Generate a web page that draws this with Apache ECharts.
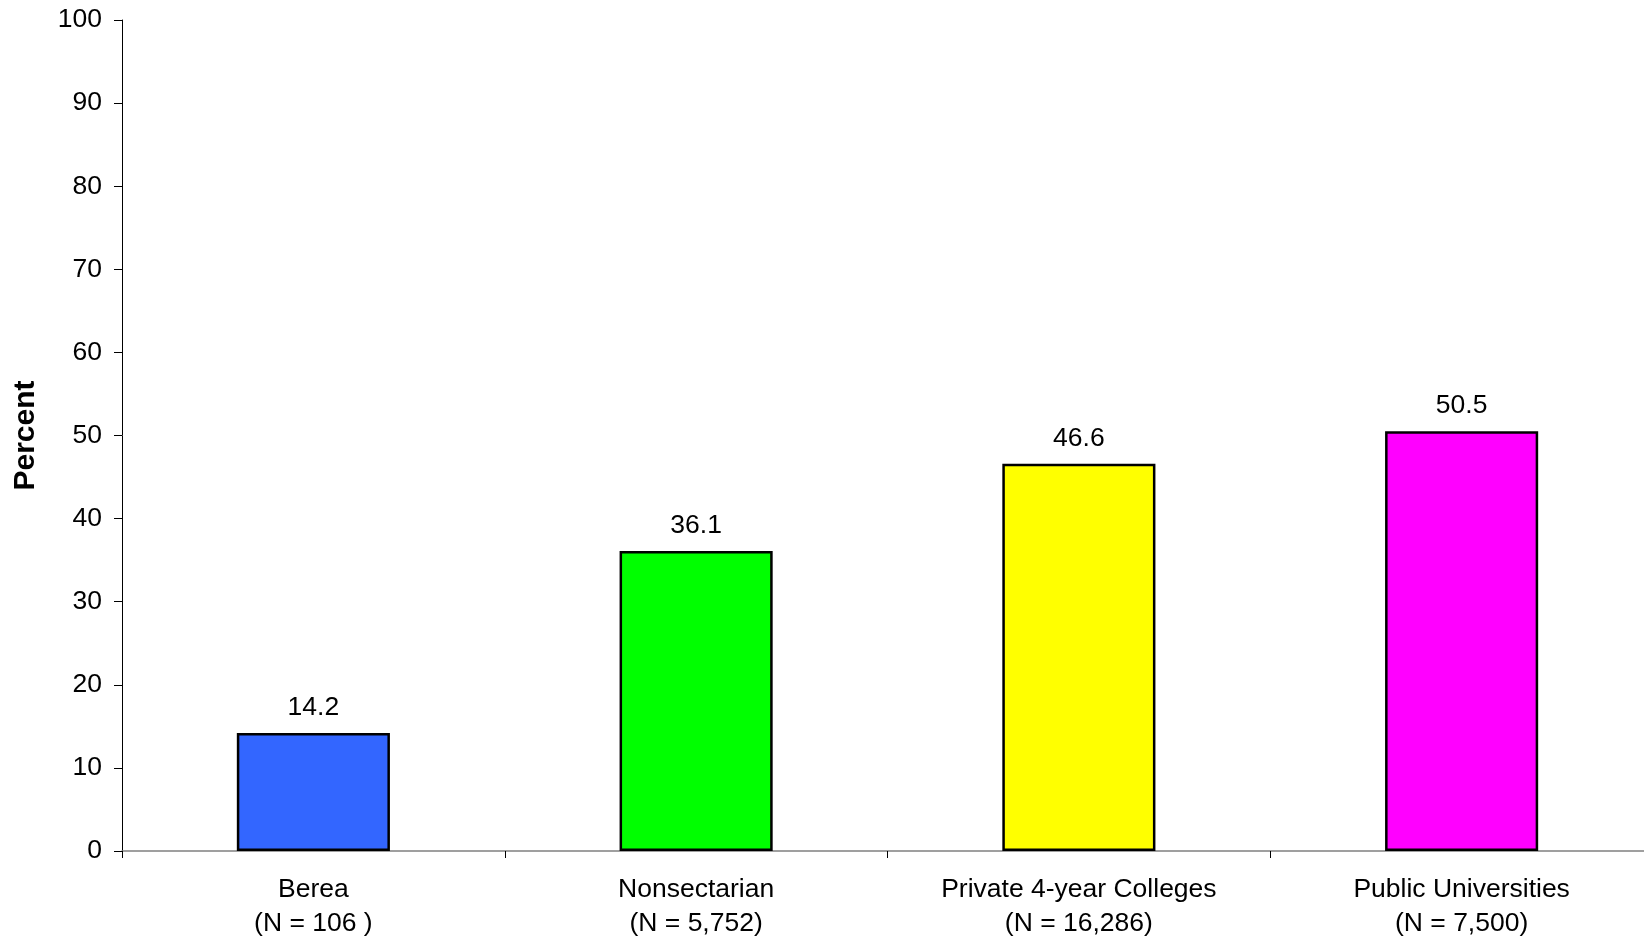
<!DOCTYPE html>
<html>
<head>
<meta charset="utf-8">
<script src="https://cdn.jsdelivr.net/npm/echarts@6/dist/echarts.min.js"></script>
<style>html,body{margin:0;padding:0;background:#fff;overflow:hidden}#c{width:1660px;height:937px}</style>
</head>
<body>
<div id="c"></div>
<script>
const categories = ['Berea\n(N = 106 )', 'Nonsectarian\n(N = 5,752)', 'Private 4-year Colleges\n(N = 16,286)', 'Public Universities\n(N = 7,500)'];
const values = [14.2, 36.1, 46.6, 50.5];
const barColors = ['#3366FF', '#00FF00', '#FFFF00', '#FF00FF'];
const yTicks = { min: 0, max: 100, interval: 10 };

const chart = echarts.init(document.getElementById('c'));
chart.setOption({
  animation: false,
  textStyle: { fontFamily: 'Liberation Sans, Arial, sans-serif' },
  grid: { left: 122, top: 20, width: 1531, height: 831, containLabel: false, outerBoundsMode: 'none' },
  xAxis: {
    type: 'category',
    data: categories,
    axisLine: { lineStyle: { color: '#808080', width: 1.5 } },
    axisTick: { show: true, length: 7, lineStyle: { color: '#000' } },
    axisLabel: { color: '#000', fontSize: 26.5, lineHeight: 33.5, margin: 22, interval: 0 },
    splitLine: { show: false }
  },
  yAxis: {
    type: 'value',
    min: yTicks.min, max: yTicks.max, interval: yTicks.interval,
    name: 'Percent',
    nameLocation: 'middle',
    nameGap: 81,
    nameRotate: 90,
    nameTextStyle: { color: '#000', fontSize: 30, fontWeight: 'bold' },
    axisLine: { show: true, lineStyle: { color: '#000', width: 1 } },
    axisTick: { show: true, length: 8, lineStyle: { color: '#000' } },
    axisLabel: { color: '#000', fontSize: 26.5, margin: 20 },
    splitLine: { show: false }
  },
  series: [{
    type: 'bar',
    data: values.map((v, i) => ({ value: v, itemStyle: { color: barColors[i] } })),
    barWidth: '40%',
    itemStyle: { borderColor: '#000', borderWidth: 2.5 },
    label: { show: true, position: 'top', distance: 12, color: '#000', fontSize: 26.5, formatter: p => p.value.toFixed(1) }
  }]
});
</script>
</body>
</html>
